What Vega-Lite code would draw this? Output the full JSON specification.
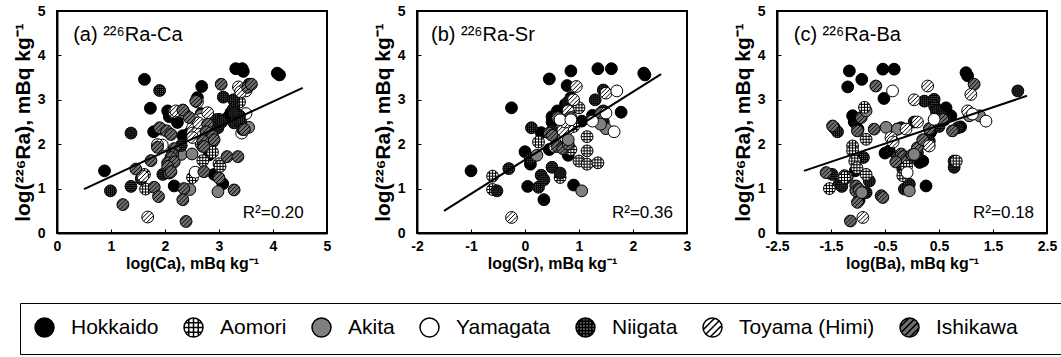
{
  "$schema": "https://vega.github.io/schema/vega-lite/v6.json",
  "padding": {"left": 11, "top": 3, "right": 0, "bottom": 0},
  "bounds": "flush",
  "spacing": 90,
  "config": {
    "view": {"stroke": "black", "strokeWidth": 2},
    "axis": {"domainColor": "black", "domainWidth": 2, "tickColor": "black", "tickSize": -4, "tickWidth": 1, "grid": false,
      "labelFont": "Liberation Sans", "labelFontWeight": "bold", "labelFontSize": 14, "labelColor": "black",
      "titleFont": "Liberation Sans", "titleFontWeight": "bold", "titleFontSize": 16, "titleColor": "black",
      "labelFlush": false, "labelOverlap": false},
    "axisX": {"labelPadding": 10, "titlePadding": 2},
    "axisY": {"labelPadding": 16, "titlePadding": 4, "titleFontSize": 21},
    "legend": {"direction": "horizontal", "columns": 7, "symbolSize": 361,
      "labelFont": "Liberation Sans", "labelFontSize": 21, "labelColor": "black", "labelOffset": 16, "columnPadding": 22,
      "padding": 14, "strokeColor": "black", "labelLimit": 400}
  },
  "datasets": {
    "a": [
      {"region":"Hokkaido","x":0.88,"y":1.40},{"region":"Hokkaido","x":1.62,"y":3.46},{"region":"Hokkaido","x":1.73,"y":2.81},{"region":"Hokkaido","x":1.79,"y":2.28},{"region":"Hokkaido","x":2.05,"y":2.75},{"region":"Hokkaido","x":2.08,"y":2.62},{"region":"Hokkaido","x":2.23,"y":2.49},{"region":"Hokkaido","x":2.17,"y":1.06},{"region":"Hokkaido","x":2.15,"y":1.62},{"region":"Hokkaido","x":2.45,"y":2.25},{"region":"Hokkaido","x":2.60,"y":3.05},{"region":"Hokkaido","x":2.68,"y":3.30},{"region":"Hokkaido","x":3.31,"y":3.70},{"region":"Hokkaido","x":3.43,"y":3.70},{"region":"Hokkaido","x":3.45,"y":3.64},{"region":"Hokkaido","x":4.08,"y":3.60},{"region":"Hokkaido","x":4.12,"y":3.56},{"region":"Hokkaido","x":2.91,"y":1.32},{"region":"Hokkaido","x":3.07,"y":1.11},{"region":"Hokkaido","x":2.67,"y":2.69},{"region":"Hokkaido","x":2.82,"y":1.76},{"region":"Hokkaido","x":3.22,"y":2.71},{"region":"Hokkaido","x":2.33,"y":2.19},{"region":"Hokkaido","x":3.16,"y":2.60},{"region":"Hokkaido","x":2.70,"y":2.50},
      {"region":"Aomori","x":2.64,"y":2.15},{"region":"Aomori","x":2.88,"y":2.05},{"region":"Aomori","x":2.67,"y":2.00},{"region":"Aomori","x":2.88,"y":1.82},{"region":"Aomori","x":2.70,"y":1.63},{"region":"Aomori","x":3.00,"y":1.56},{"region":"Aomori","x":3.02,"y":1.50},{"region":"Aomori","x":1.62,"y":1.32},{"region":"Aomori","x":2.51,"y":1.25},{"region":"Aomori","x":1.64,"y":0.99},{"region":"Aomori","x":2.78,"y":2.28},{"region":"Aomori","x":2.58,"y":2.20},{"region":"Aomori","x":3.38,"y":2.95},{"region":"Aomori","x":2.95,"y":2.42},
      {"region":"Akita","x":2.67,"y":2.65},{"region":"Akita","x":2.30,"y":1.77},{"region":"Akita","x":2.70,"y":1.95},{"region":"Akita","x":2.46,"y":0.98},{"region":"Akita","x":2.98,"y":0.93},{"region":"Akita","x":2.36,"y":2.70},{"region":"Akita","x":3.55,"y":2.38},{"region":"Akita","x":2.50,"y":1.78},{"region":"Akita","x":3.30,"y":2.72},
      {"region":"Yamagata","x":3.50,"y":3.20},{"region":"Yamagata","x":3.50,"y":2.69},{"region":"Yamagata","x":2.67,"y":2.56},{"region":"Yamagata","x":2.56,"y":1.37},{"region":"Yamagata","x":3.42,"y":2.25},{"region":"Yamagata","x":1.95,"y":1.98},
      {"region":"Niigata","x":1.90,"y":3.21},{"region":"Niigata","x":3.56,"y":3.35},{"region":"Niigata","x":3.08,"y":3.06},{"region":"Niigata","x":3.27,"y":3.00},{"region":"Niigata","x":3.27,"y":2.80},{"region":"Niigata","x":3.38,"y":2.64},{"region":"Niigata","x":3.28,"y":2.70},{"region":"Niigata","x":3.00,"y":2.56},{"region":"Niigata","x":2.94,"y":2.55},{"region":"Niigata","x":3.28,"y":2.48},{"region":"Niigata","x":3.40,"y":2.50},{"region":"Niigata","x":1.93,"y":2.34},{"region":"Niigata","x":2.98,"y":2.37},{"region":"Niigata","x":3.44,"y":2.33},{"region":"Niigata","x":1.37,"y":2.25},{"region":"Niigata","x":2.30,"y":1.97},{"region":"Niigata","x":1.96,"y":1.32},{"region":"Niigata","x":1.56,"y":1.22},{"region":"Niigata","x":1.37,"y":1.05},{"region":"Niigata","x":0.99,"y":0.95},{"region":"Niigata","x":3.05,"y":2.50},{"region":"Niigata","x":2.85,"y":2.30},
      {"region":"Toyama (Himi)","x":3.36,"y":3.29},{"region":"Toyama (Himi)","x":3.40,"y":3.18},{"region":"Toyama (Himi)","x":2.60,"y":2.95},{"region":"Toyama (Himi)","x":2.17,"y":2.72},{"region":"Toyama (Himi)","x":2.79,"y":2.71},{"region":"Toyama (Himi)","x":2.53,"y":2.55},{"region":"Toyama (Himi)","x":2.51,"y":2.37},{"region":"Toyama (Himi)","x":2.51,"y":2.25},{"region":"Toyama (Himi)","x":2.60,"y":2.25},{"region":"Toyama (Himi)","x":2.51,"y":2.15},{"region":"Toyama (Himi)","x":1.86,"y":1.99},{"region":"Toyama (Himi)","x":1.59,"y":1.28},{"region":"Toyama (Himi)","x":1.68,"y":0.36},{"region":"Toyama (Himi)","x":2.20,"y":2.75},{"region":"Toyama (Himi)","x":2.62,"y":2.48},
      {"region":"Ishikawa","x":3.04,"y":3.35},{"region":"Ishikawa","x":3.53,"y":3.28},{"region":"Ishikawa","x":2.57,"y":2.97},{"region":"Ishikawa","x":2.33,"y":2.77},{"region":"Ishikawa","x":2.79,"y":2.45},{"region":"Ishikawa","x":1.90,"y":2.37},{"region":"Ishikawa","x":3.47,"y":2.33},{"region":"Ishikawa","x":2.03,"y":2.30},{"region":"Ishikawa","x":2.76,"y":2.28},{"region":"Ishikawa","x":2.11,"y":2.22},{"region":"Ishikawa","x":2.88,"y":2.18},{"region":"Ishikawa","x":2.91,"y":2.10},{"region":"Ishikawa","x":2.70,"y":2.08},{"region":"Ishikawa","x":2.72,"y":1.95},{"region":"Ishikawa","x":1.86,"y":1.93},{"region":"Ishikawa","x":2.17,"y":1.90},{"region":"Ishikawa","x":2.14,"y":1.79},{"region":"Ishikawa","x":2.14,"y":1.76},{"region":"Ishikawa","x":1.74,"y":1.63},{"region":"Ishikawa","x":2.11,"y":1.70},{"region":"Ishikawa","x":3.15,"y":1.72},{"region":"Ishikawa","x":2.05,"y":1.58},{"region":"Ishikawa","x":2.17,"y":1.60},{"region":"Ishikawa","x":2.05,"y":1.50},{"region":"Ishikawa","x":1.46,"y":1.44},{"region":"Ishikawa","x":2.08,"y":1.35},{"region":"Ishikawa","x":2.11,"y":1.38},{"region":"Ishikawa","x":2.72,"y":1.38},{"region":"Ishikawa","x":3.00,"y":1.24},{"region":"Ishikawa","x":1.80,"y":1.03},{"region":"Ishikawa","x":2.35,"y":1.00},{"region":"Ishikawa","x":3.28,"y":0.97},{"region":"Ishikawa","x":1.88,"y":0.82},{"region":"Ishikawa","x":2.33,"y":0.75},{"region":"Ishikawa","x":1.22,"y":0.64},{"region":"Ishikawa","x":2.39,"y":0.26},{"region":"Ishikawa","x":3.35,"y":1.72},{"region":"Ishikawa","x":2.45,"y":2.60},{"region":"Ishikawa","x":3.60,"y":3.35}
    ],
    "b": [
      {"region":"Hokkaido","x":-1.0,"y":1.40},{"region":"Hokkaido","x":-0.25,"y":2.82},{"region":"Hokkaido","x":0.0,"y":1.83},{"region":"Hokkaido","x":0.05,"y":1.05},{"region":"Hokkaido","x":0.1,"y":1.55},{"region":"Hokkaido","x":0.3,"y":2.26},{"region":"Hokkaido","x":0.35,"y":0.75},{"region":"Hokkaido","x":0.45,"y":3.47},{"region":"Hokkaido","x":0.5,"y":2.62},{"region":"Hokkaido","x":0.5,"y":2.5},{"region":"Hokkaido","x":0.45,"y":1.88},{"region":"Hokkaido","x":0.6,"y":2.75},{"region":"Hokkaido","x":0.78,"y":3.32},{"region":"Hokkaido","x":0.85,"y":3.65},{"region":"Hokkaido","x":0.8,"y":1.75},{"region":"Hokkaido","x":0.75,"y":2.9},{"region":"Hokkaido","x":0.9,"y":1.08},{"region":"Hokkaido","x":1.05,"y":2.52},{"region":"Hokkaido","x":1.25,"y":2.65},{"region":"Hokkaido","x":1.35,"y":3.7},{"region":"Hokkaido","x":1.6,"y":3.7},{"region":"Hokkaido","x":1.78,"y":2.72},{"region":"Hokkaido","x":2.2,"y":3.6},{"region":"Hokkaido","x":2.22,"y":3.56},{"region":"Hokkaido","x":0.85,"y":3.05},{"region":"Hokkaido","x":0.1,"y":1.65},
      {"region":"Aomori","x":-0.6,"y":1.28},{"region":"Aomori","x":-0.6,"y":0.98},{"region":"Aomori","x":0.25,"y":2.05},{"region":"Aomori","x":0.65,"y":1.25},{"region":"Aomori","x":0.85,"y":1.88},{"region":"Aomori","x":0.95,"y":2.85},{"region":"Aomori","x":1.0,"y":1.62},{"region":"Aomori","x":1.15,"y":1.55},{"region":"Aomori","x":1.15,"y":1.85},{"region":"Aomori","x":1.15,"y":2.17},{"region":"Aomori","x":1.35,"y":1.58},{"region":"Aomori","x":0.7,"y":2.45},{"region":"Aomori","x":0.9,"y":2.4},{"region":"Aomori","x":1.0,"y":2.82},
      {"region":"Niigata","x":-0.3,"y":1.45},{"region":"Niigata","x":-0.52,"y":0.95},{"region":"Niigata","x":0.12,"y":2.37},{"region":"Niigata","x":0.1,"y":1.68},{"region":"Niigata","x":0.25,"y":1.03},{"region":"Niigata","x":0.3,"y":1.3},{"region":"Niigata","x":0.35,"y":1.2},{"region":"Niigata","x":0.5,"y":1.48},{"region":"Niigata","x":0.55,"y":2.2},{"region":"Niigata","x":0.5,"y":2.3},{"region":"Niigata","x":0.75,"y":2.62},{"region":"Niigata","x":0.8,"y":2.95},{"region":"Niigata","x":0.85,"y":3.0},{"region":"Niigata","x":1.3,"y":3.0},{"region":"Niigata","x":1.45,"y":3.22},{"region":"Niigata","x":1.45,"y":2.75},{"region":"Niigata","x":1.45,"y":2.5},{"region":"Niigata","x":0.65,"y":1.35},{"region":"Niigata","x":0.8,"y":2.7},
      {"region":"Toyama (Himi)","x":-0.25,"y":0.35},{"region":"Toyama (Himi)","x":0.7,"y":2.1},{"region":"Toyama (Himi)","x":0.75,"y":2.15},{"region":"Toyama (Himi)","x":0.8,"y":2.35},{"region":"Toyama (Himi)","x":0.9,"y":3.0},{"region":"Toyama (Himi)","x":0.95,"y":3.3},{"region":"Toyama (Himi)","x":0.8,"y":2.75},{"region":"Toyama (Himi)","x":1.5,"y":3.15},{"region":"Toyama (Himi)","x":0.55,"y":1.95},{"region":"Toyama (Himi)","x":0.7,"y":2.3},{"region":"Toyama (Himi)","x":0.75,"y":2.5},
      {"region":"Ishikawa","x":0.45,"y":2.25},{"region":"Ishikawa","x":0.5,"y":2.2},{"region":"Ishikawa","x":0.6,"y":1.95},{"region":"Ishikawa","x":0.7,"y":1.9},{"region":"Ishikawa","x":0.85,"y":2.6},{"region":"Ishikawa","x":0.8,"y":2.0},{"region":"Ishikawa","x":1.4,"y":2.7},{"region":"Ishikawa","x":0.6,"y":2.6},
      {"region":"Akita","x":0.22,"y":1.75},{"region":"Akita","x":1.05,"y":0.95},{"region":"Akita","x":1.5,"y":2.35},{"region":"Akita","x":0.8,"y":2.1},{"region":"Akita","x":1.4,"y":2.45},
      {"region":"Yamagata","x":0.65,"y":2.55},{"region":"Yamagata","x":1.25,"y":2.52},{"region":"Yamagata","x":1.5,"y":2.7},{"region":"Yamagata","x":1.65,"y":2.28},{"region":"Yamagata","x":1.7,"y":3.2},{"region":"Yamagata","x":0.85,"y":2.55}
    ],
    "c": [
      {"region":"Hokkaido","x":-1.16,"y":3.65},{"region":"Hokkaido","x":-1.19,"y":3.29},{"region":"Hokkaido","x":-0.93,"y":3.46},{"region":"Hokkaido","x":-0.54,"y":3.69},{"region":"Hokkaido","x":-0.33,"y":3.69},{"region":"Hokkaido","x":-0.52,"y":3.03},{"region":"Hokkaido","x":-1.1,"y":2.64},{"region":"Hokkaido","x":-1.07,"y":2.5},{"region":"Hokkaido","x":-1.0,"y":2.34},{"region":"Hokkaido","x":-1.05,"y":1.4},{"region":"Hokkaido","x":-0.98,"y":0.74},{"region":"Hokkaido","x":0.35,"y":2.3},{"region":"Hokkaido","x":0.14,"y":1.59},{"region":"Hokkaido","x":0.2,"y":1.62},{"region":"Hokkaido","x":0.26,"y":1.06},{"region":"Hokkaido","x":0.63,"y":2.82},{"region":"Hokkaido","x":0.72,"y":2.64},{"region":"Hokkaido","x":0.9,"y":2.39},{"region":"Hokkaido","x":1.0,"y":3.61},{"region":"Hokkaido","x":1.03,"y":3.54},{"region":"Hokkaido","x":-0.42,"y":1.85},{"region":"Hokkaido","x":0.34,"y":2.26},{"region":"Hokkaido","x":-0.5,"y":1.8},
      {"region":"Niigata","x":-1.44,"y":2.37},{"region":"Niigata","x":-1.38,"y":2.28},{"region":"Niigata","x":-1.48,"y":1.32},{"region":"Niigata","x":-1.35,"y":1.1},{"region":"Niigata","x":-1.3,"y":1.05},{"region":"Niigata","x":-0.9,"y":1.7},{"region":"Niigata","x":-0.85,"y":0.91},{"region":"Niigata","x":-0.79,"y":1.17},{"region":"Niigata","x":-0.14,"y":0.99},{"region":"Niigata","x":-0.05,"y":1.1},{"region":"Niigata","x":0.04,"y":2.5},{"region":"Niigata","x":0.23,"y":2.97},{"region":"Niigata","x":0.41,"y":3.01},{"region":"Niigata","x":0.42,"y":2.85},{"region":"Niigata","x":0.45,"y":2.75},{"region":"Niigata","x":0.54,"y":2.64},{"region":"Niigata","x":0.32,"y":2.07},{"region":"Niigata","x":0.78,"y":1.62},{"region":"Niigata","x":0.78,"y":1.48},{"region":"Niigata","x":1.96,"y":3.2},{"region":"Niigata","x":0.85,"y":2.37},{"region":"Niigata","x":-0.2,"y":2.37},{"region":"Niigata","x":0.1,"y":1.8},{"region":"Niigata","x":-0.17,"y":1.44},{"region":"Niigata","x":-0.14,"y":1.55},{"region":"Niigata","x":0.5,"y":2.4},{"region":"Niigata","x":0.6,"y":2.55},
      {"region":"Ishikawa","x":-1.59,"y":1.36},{"region":"Ishikawa","x":-1.47,"y":2.41},{"region":"Ishikawa","x":-1.04,"y":1.06},{"region":"Ishikawa","x":-1.04,"y":0.95},{"region":"Ishikawa","x":-0.98,"y":0.98},{"region":"Ishikawa","x":-1.01,"y":0.69},{"region":"Ishikawa","x":-1.14,"y":0.27},{"region":"Ishikawa","x":-1.01,"y":2.3},{"region":"Ishikawa","x":-0.94,"y":2.6},{"region":"Ishikawa","x":-0.7,"y":2.34},{"region":"Ishikawa","x":-0.67,"y":3.31},{"region":"Ishikawa","x":-0.27,"y":2.34},{"region":"Ishikawa","x":-0.27,"y":1.7},{"region":"Ishikawa","x":-0.2,"y":1.78},{"region":"Ishikawa","x":-0.17,"y":1.72},{"region":"Ishikawa","x":-0.05,"y":1.68},{"region":"Ishikawa","x":-0.1,"y":1.62},{"region":"Ishikawa","x":0.0,"y":1.76},{"region":"Ishikawa","x":0.1,"y":1.92},{"region":"Ishikawa","x":-0.57,"y":0.84},{"region":"Ishikawa","x":-0.54,"y":0.8},{"region":"Ishikawa","x":0.32,"y":2.35},{"region":"Ishikawa","x":0.57,"y":2.56},{"region":"Ishikawa","x":1.15,"y":3.35},{"region":"Ishikawa","x":1.1,"y":2.67},{"region":"Ishikawa","x":-1.25,"y":1.29},{"region":"Ishikawa","x":-1.2,"y":1.25},{"region":"Ishikawa","x":-0.3,"y":1.6},{"region":"Ishikawa","x":0.2,"y":2.1},{"region":"Ishikawa","x":0.75,"y":2.3},
      {"region":"Akita","x":-0.85,"y":2.75},{"region":"Akita","x":-0.48,"y":2.38},{"region":"Akita","x":-0.27,"y":2.34},{"region":"Akita","x":-0.93,"y":0.91},{"region":"Akita","x":-0.05,"y":0.95},{"region":"Akita","x":0.04,"y":1.77},{"region":"Akita","x":1.06,"y":2.64},{"region":"Akita","x":1.25,"y":2.64},
      {"region":"Aomori","x":-1.1,"y":1.96},{"region":"Aomori","x":-1.1,"y":1.85},{"region":"Aomori","x":-1.06,"y":1.62},{"region":"Aomori","x":-1.02,"y":1.47},{"region":"Aomori","x":-0.85,"y":2.11},{"region":"Aomori","x":-0.85,"y":1.32},{"region":"Aomori","x":-1.25,"y":1.25},{"region":"Aomori","x":-1.53,"y":1.0},{"region":"Aomori","x":-0.17,"y":1.29},{"region":"Aomori","x":0.82,"y":1.62},{"region":"Aomori","x":-0.88,"y":2.83},{"region":"Aomori","x":-0.1,"y":1.5},
      {"region":"Toyama (Himi)","x":-0.91,"y":0.35},{"region":"Toyama (Himi)","x":-0.39,"y":2.15},{"region":"Toyama (Himi)","x":-0.11,"y":2.34},{"region":"Toyama (Himi)","x":0.04,"y":3.0},{"region":"Toyama (Himi)","x":0.29,"y":3.31},{"region":"Toyama (Himi)","x":0.32,"y":1.96},{"region":"Toyama (Himi)","x":1.09,"y":3.12},{"region":"Toyama (Himi)","x":1.03,"y":2.75},{"region":"Toyama (Himi)","x":-0.35,"y":2.05},{"region":"Toyama (Himi)","x":0.1,"y":2.5},
      {"region":"Yamagata","x":-0.36,"y":3.2},{"region":"Yamagata","x":0.41,"y":2.56},{"region":"Yamagata","x":1.12,"y":2.68},{"region":"Yamagata","x":1.37,"y":2.52},{"region":"Yamagata","x":-0.09,"y":1.36}
    ],
    "fitA": [{"x":0.5,"y":0.99},{"x":4.55,"y":3.27}],
    "fitB": [{"x":-1.5,"y":0.5},{"x":2.52,"y":3.58}],
    "fitC": [{"x":-2.0,"y":1.4},{"x":2.13,"y":3.09}]
  },
  "hconcat": [
    {
      "width": 270, "height": 222,
      "layer": [
        {"data": {"name": "a"},
         "mark": {"type": "point", "filled": true, "opacity": 1, "stroke": "black", "strokeWidth": 1, "size": 140},
         "encoding": {
           "x": {"field": "x", "type": "quantitative", "scale": {"domain": [0, 5], "nice": false, "zero": false}, "axis": {"values": [0,1,2,3,4,5], "title": "log(Ca), mBq kg⁻¹"}},
           "y": {"field": "y", "type": "quantitative", "scale": {"domain": [0, 5], "nice": false}, "axis": {"values": [0,1,2,3,4,5], "title": "log(²²⁶Ra), mBq kg⁻¹"}},
           "fill": {"field": "region", "type": "nominal",
             "scale": {"domain": ["Hokkaido","Aomori","Akita","Yamagata","Niigata","Toyama (Himi)","Ishikawa"], "range": ["#000000","#ffffff","#808080","#ffffff","#6a6a6a","#ffffff","#707070"]},
             "legend": {"title": null, "orient": "none", "legendX": -37, "legendY": 292, "labelExpr": "datum.label == 'Ishikawa' ? 'Ishikawa⠀⠀' : datum.label", "encode": {"legend": {"update": {"strokeWidth": {"value": 2}}}, "symbols": {"update": {"stroke": {"value": "black"}, "strokeWidth": {"value": 1.5}}}}}},
           "shape": {"field": "region", "type": "nominal",
             "scale": {"domain": ["Hokkaido","Aomori","Akita","Yamagata","Niigata","Toyama (Himi)","Ishikawa"], "range": [
               "M-1,0A1,1,0,1,1,1,0A1,1,0,1,1,-1,0Z",
               "M-1,0A1,1,0,1,1,1,0A1,1,0,1,1,-1,0ZM-0.5,-0.866L-0.5,0.866M0,-1L0,1M0.5,-0.866L0.5,0.866M-0.866,-0.5L0.866,-0.5M-1,0L1,0M-0.866,0.5L0.866,0.5",
               "M-1,0A1,1,0,1,1,1,0A1,1,0,1,1,-1,0Z",
               "M-1,0A1,1,0,1,1,1,0A1,1,0,1,1,-1,0Z",
               "M-1,0A1,1,0,1,1,1,0A1,1,0,1,1,-1,0ZM-0.66,-0.751L-0.66,0.751M-0.33,-0.944L-0.33,0.944M0,-1L0,1M0.33,-0.944L0.33,0.944M0.66,-0.751L0.66,0.751M-0.751,-0.66L0.751,-0.66M-0.944,-0.33L0.944,-0.33M-1,0L1,0M-0.944,0.33L0.944,0.33M-0.751,0.66L0.751,0.66",
               "M-1,0A1,1,0,1,1,1,0A1,1,0,1,1,-1,0ZM-0.707,0.707L0.707,-0.707M-0.2245,0.975L0.975,-0.2245M-0.975,0.2245L0.2245,-0.975",
               "M-1,0A1,1,0,1,1,1,0A1,1,0,1,1,-1,0ZM-0.51,0.86L0.86,-0.51M-0.86,0.51L0.51,-0.86M0.051,0.999L0.999,0.051M-0.999,-0.051L-0.051,-0.999"]},
             "legend": {"title": null, "orient": "none", "legendX": -37, "legendY": 292, "labelExpr": "datum.label == 'Ishikawa' ? 'Ishikawa⠀⠀' : datum.label", "encode": {"legend": {"update": {"strokeWidth": {"value": 2}}}, "symbols": {"update": {"stroke": {"value": "black"}, "strokeWidth": {"value": 1.5}}}}}}
         }},
        {"data": {"name": "fitA"}, "mark": {"type": "line", "color": "black", "strokeWidth": 2},
         "encoding": {"x": {"field": "x", "type": "quantitative"}, "y": {"field": "y", "type": "quantitative"}}},
        {"data": {"values": [{"x": 0.3, "y": 4.32, "label": "(a) ²²⁶Ra-Ca"}]},
         "mark": {"type": "text", "align": "left", "baseline": "alphabetic", "font": "Liberation Sans", "fontSize": 20, "color": "black"},
         "encoding": {"x": {"field": "x", "type": "quantitative"}, "y": {"field": "y", "type": "quantitative"}, "text": {"field": "label"}}},
        {"data": {"values": [{"x": 4.57, "y": 0.34, "label": "R²=0.20"}]},
         "mark": {"type": "text", "align": "right", "baseline": "alphabetic", "font": "Liberation Sans", "fontSize": 17, "color": "black"},
         "encoding": {"x": {"field": "x", "type": "quantitative"}, "y": {"field": "y", "type": "quantitative"}, "text": {"field": "label"}}}
      ]
    },
    {
      "width": 270, "height": 222,
      "layer": [
        {"data": {"name": "b"},
         "mark": {"type": "point", "filled": true, "opacity": 1, "stroke": "black", "strokeWidth": 1, "size": 140},
         "encoding": {
           "x": {"field": "x", "type": "quantitative", "scale": {"domain": [-2, 3], "nice": false, "zero": false}, "axis": {"values": [-2,-1,0,1,2,3], "labelExpr": "replace(datum.label, '−', '-')", "title": "log(Sr), mBq kg⁻¹"}},
           "y": {"field": "y", "type": "quantitative", "scale": {"domain": [0, 5], "nice": false}, "axis": {"values": [0,1,2,3,4,5], "title": "log(²²⁶Ra), mBq kg⁻¹"}},
           "fill": {"field": "region", "type": "nominal", "legend": {"title": null, "orient": "none", "legendX": -37, "legendY": 292, "labelExpr": "datum.label == 'Ishikawa' ? 'Ishikawa⠀⠀' : datum.label", "encode": {"legend": {"update": {"strokeWidth": {"value": 2}}}, "symbols": {"update": {"stroke": {"value": "black"}, "strokeWidth": {"value": 1.5}}}}}},
           "shape": {"field": "region", "type": "nominal", "legend": {"title": null, "orient": "none", "legendX": -37, "legendY": 292, "labelExpr": "datum.label == 'Ishikawa' ? 'Ishikawa⠀⠀' : datum.label", "encode": {"legend": {"update": {"strokeWidth": {"value": 2}}}, "symbols": {"update": {"stroke": {"value": "black"}, "strokeWidth": {"value": 1.5}}}}}}
         }},
        {"data": {"name": "fitB"}, "mark": {"type": "line", "color": "black", "strokeWidth": 2},
         "encoding": {"x": {"field": "x", "type": "quantitative"}, "y": {"field": "y", "type": "quantitative"}}},
        {"data": {"values": [{"x": -1.74, "y": 4.32, "label": "(b) ²²⁶Ra-Sr"}]},
         "mark": {"type": "text", "align": "left", "baseline": "alphabetic", "font": "Liberation Sans", "fontSize": 20, "color": "black"},
         "encoding": {"x": {"field": "x", "type": "quantitative"}, "y": {"field": "y", "type": "quantitative"}, "text": {"field": "label"}}},
        {"data": {"values": [{"x": 2.74, "y": 0.34, "label": "R²=0.36"}]},
         "mark": {"type": "text", "align": "right", "baseline": "alphabetic", "font": "Liberation Sans", "fontSize": 17, "color": "black"},
         "encoding": {"x": {"field": "x", "type": "quantitative"}, "y": {"field": "y", "type": "quantitative"}, "text": {"field": "label"}}}
      ]
    },
    {
      "width": 270, "height": 222,
      "layer": [
        {"data": {"name": "c"},
         "mark": {"type": "point", "filled": true, "opacity": 1, "stroke": "black", "strokeWidth": 1, "size": 140},
         "encoding": {
           "x": {"field": "x", "type": "quantitative", "scale": {"domain": [-2.5, 2.5], "nice": false, "zero": false}, "axis": {"values": [-2.5,-1.5,-0.5,0.5,1.5,2.5], "format": ".1f", "labelExpr": "replace(datum.label, '−', '-')", "title": "log(Ba), mBq kg⁻¹"}},
           "y": {"field": "y", "type": "quantitative", "scale": {"domain": [0, 5], "nice": false}, "axis": {"values": [0,1,2,3,4,5], "title": "log(²²⁶Ra), mBq kg⁻¹"}},
           "fill": {"field": "region", "type": "nominal", "legend": {"title": null, "orient": "none", "legendX": -37, "legendY": 292, "labelExpr": "datum.label == 'Ishikawa' ? 'Ishikawa⠀⠀' : datum.label", "encode": {"legend": {"update": {"strokeWidth": {"value": 2}}}, "symbols": {"update": {"stroke": {"value": "black"}, "strokeWidth": {"value": 1.5}}}}}},
           "shape": {"field": "region", "type": "nominal", "legend": {"title": null, "orient": "none", "legendX": -37, "legendY": 292, "labelExpr": "datum.label == 'Ishikawa' ? 'Ishikawa⠀⠀' : datum.label", "encode": {"legend": {"update": {"strokeWidth": {"value": 2}}}, "symbols": {"update": {"stroke": {"value": "black"}, "strokeWidth": {"value": 1.5}}}}}}
         }},
        {"data": {"name": "fitC"}, "mark": {"type": "line", "color": "black", "strokeWidth": 2},
         "encoding": {"x": {"field": "x", "type": "quantitative"}, "y": {"field": "y", "type": "quantitative"}}},
        {"data": {"values": [{"x": -2.19, "y": 4.32, "label": "(c) ²²⁶Ra-Ba"}]},
         "mark": {"type": "text", "align": "left", "baseline": "alphabetic", "font": "Liberation Sans", "fontSize": 20, "color": "black"},
         "encoding": {"x": {"field": "x", "type": "quantitative"}, "y": {"field": "y", "type": "quantitative"}, "text": {"field": "label"}}},
        {"data": {"values": [{"x": 2.26, "y": 0.34, "label": "R²=0.18"}]},
         "mark": {"type": "text", "align": "right", "baseline": "alphabetic", "font": "Liberation Sans", "fontSize": 17, "color": "black"},
         "encoding": {"x": {"field": "x", "type": "quantitative"}, "y": {"field": "y", "type": "quantitative"}, "text": {"field": "label"}}}
      ]
    }
  ]
}
